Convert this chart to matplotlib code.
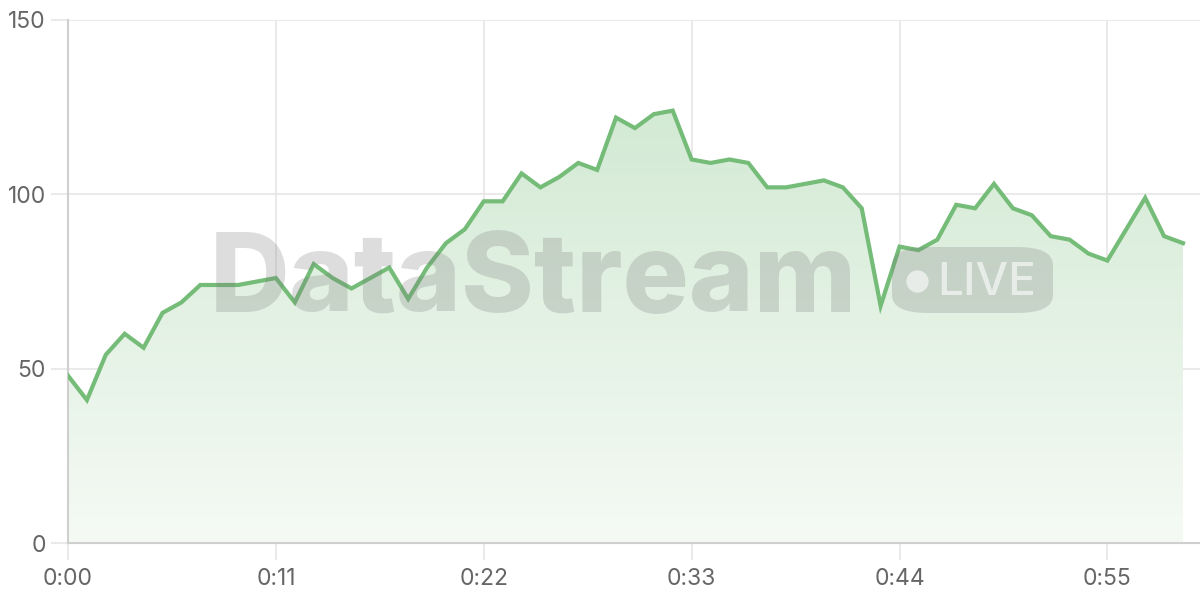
import numpy as np
import matplotlib
matplotlib.use("Agg")
import matplotlib.pyplot as plt
from matplotlib.patches import FancyBboxPatch
from matplotlib.colors import LinearSegmentedColormap

# ---- data -------------------------------------------------------------------
seconds = np.arange(60)
values = [48, 41, 54, 60, 56, 66, 69, 74, 74, 74,
          75, 76, 69, 80, 76, 73, 76, 79, 70, 79,
          86, 90, 98, 98, 106, 102, 105, 109, 107, 122,
          119, 123, 124, 110, 109, 110, 109, 102, 102, 103,
          104, 102, 96, 68, 85, 84, 87, 97, 96, 103,
          96, 94, 88, 87, 83, 81, 90, 99, 88, 86]
tick_pos = [0, 11, 22, 33, 44, 55]
tick_lab = ["0:00", "0:11", "0:22", "0:33", "0:44", "0:55"]
y_ticks = [0, 50, 100, 150]

LINE = "#74bc78"
GRID = "#e6e6e6"
AXIS = "#cfcfcf"
TXT = "#666666"

plt.rcParams["font.family"] = ["Inter", "DejaVu Sans"]

fig = plt.figure(figsize=(12, 6), dpi=100)
ax = fig.add_axes([68 / 1200, 57 / 600, 1132 / 1200, 523 / 600])
ax.set_xlim(0, 59.9)
ax.set_ylim(0, 150)

# gradient fill under the line
fill = ax.fill_between(seconds, values, 0, color="none", lw=0)
cmap = LinearSegmentedColormap.from_list("g", ["#f5faf5", "#d3ead4"])
grad = np.linspace(0, 1, 256).reshape(-1, 1)
im = ax.imshow(grad, cmap=cmap, origin="lower", aspect="auto",
               extent=[0, 59, 0, max(values)], zorder=1)
im.set_clip_path(fill.get_paths()[0], transform=ax.transData)

ax.plot(seconds, values, color=LINE, lw=3, zorder=4, solid_joinstyle="miter")

# watermark
fig.text(210 / 1200, 1 - 312 / 600, "DataStream", fontsize=79.5,
         fontweight="heavy", color="#7a7a7a", alpha=0.25, ha="left",
         va="baseline", zorder=3)
badge = FancyBboxPatch((892 / 1200, 1 - 313 / 600), 161 / 1200, 66 / 600,
                       boxstyle="round,pad=0,rounding_size=0.03",
                       transform=fig.transFigure, facecolor="#7a7a7a",
                       alpha=0.25, edgecolor="none", zorder=3)
fig.add_artist(badge)
fig.add_artist(plt.Line2D([917 / 1200], [1 - 281 / 600], transform=fig.transFigure,
                          marker="o", markersize=16, markerfacecolor="white",
                          markeredgewidth=0, alpha=0.6, zorder=3))
fig.text(937 / 1200, 1 - 295 / 600, "LIVE", fontsize=33, color="white",
         alpha=0.6, ha="left", va="baseline", fontweight="medium", zorder=3)

# axes styling
ax.set_xticks(tick_pos)
ax.set_xticklabels(tick_lab)
ax.set_yticks(y_ticks)
ax.grid(True, color=GRID, lw=1.2, zorder=0)
ax.set_axisbelow(True)
for s in ["top", "right"]:
    ax.spines[s].set_visible(False)
for s in ["left", "bottom"]:
    ax.spines[s].set_color(AXIS)
    ax.spines[s].set_linewidth(1.5)
ax.tick_params(axis="both", colors=GRID, length=12, width=1.2,
               labelcolor=TXT, labelsize=16.5)
ax.tick_params(axis="x", pad=6)
ax.tick_params(axis="y", pad=4)

fig.savefig("out.png", dpi=100)
